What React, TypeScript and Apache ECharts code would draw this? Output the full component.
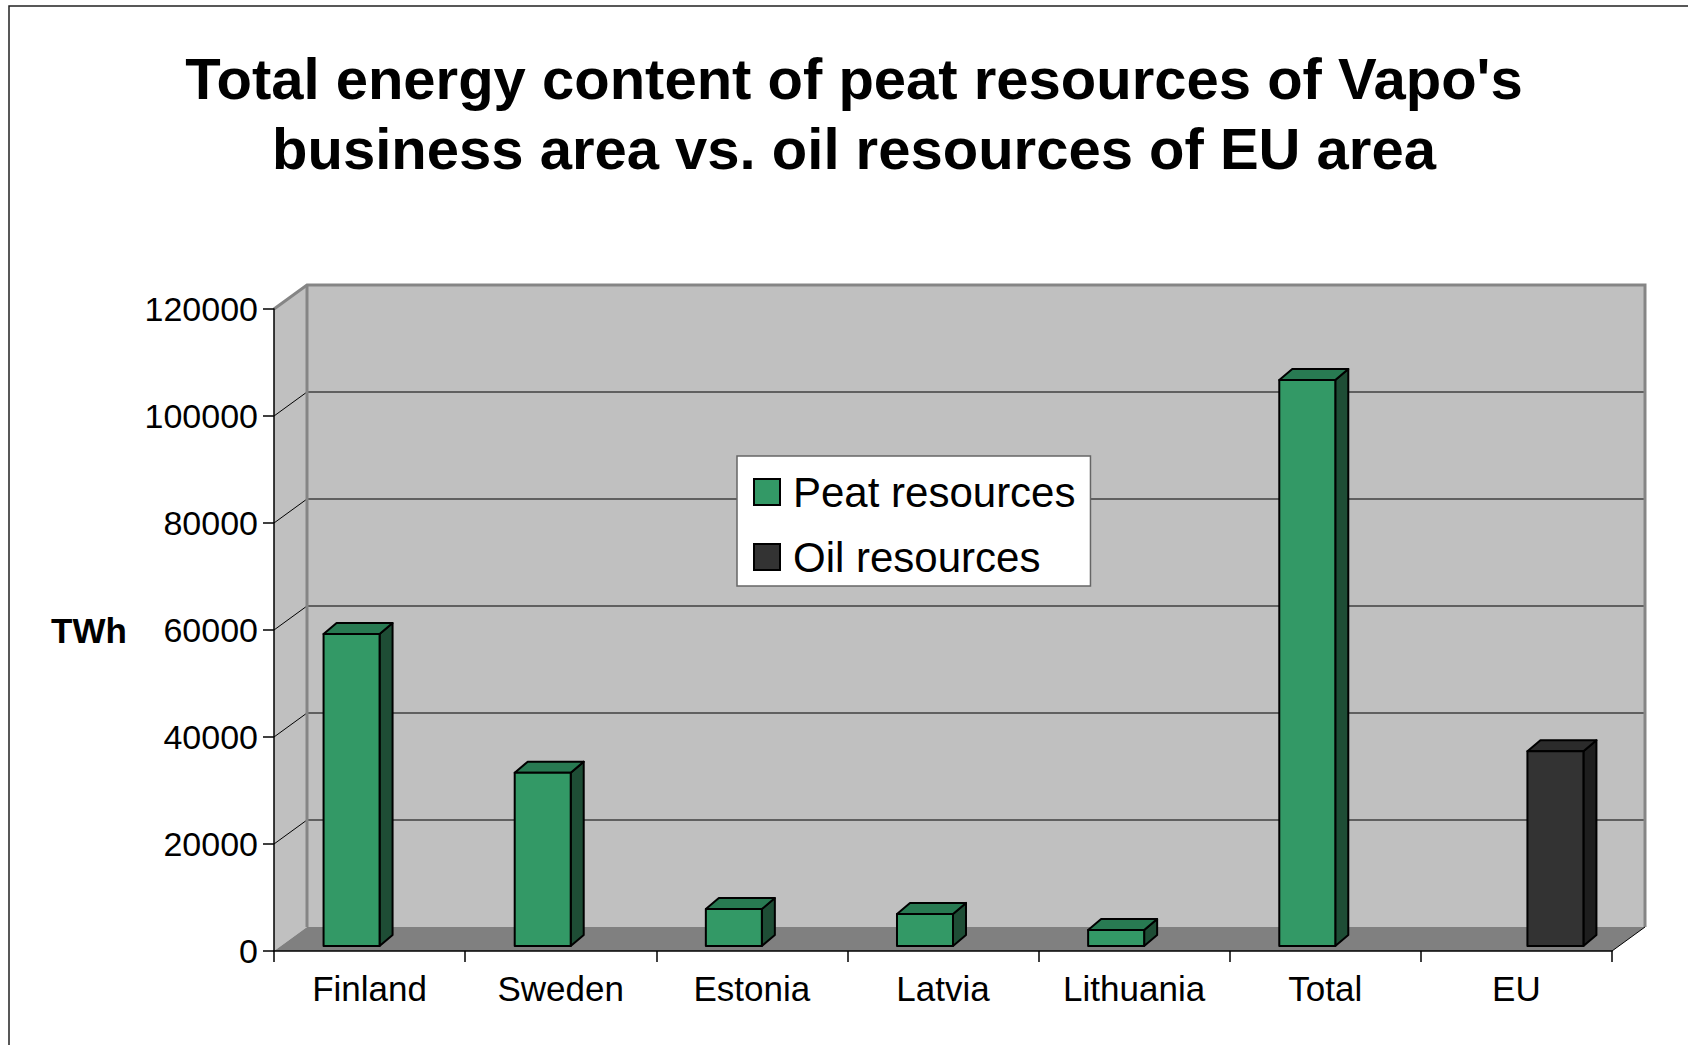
import React, { useEffect, useRef } from "react";
import * as echarts from "echarts";

const titleLines = ["Total energy content of peat resources of Vapo's", "business area vs. oil resources of EU area"];
const categories = ["Finland", "Sweden", "Estonia", "Latvia", "Lithuania", "Total", "EU"];
const peatValues: (number | null)[] = [58300, 32400, 6900, 6000, 3000, 105800, null];
const oilValues: (number | null)[] = [null, null, null, null, null, null, 36400];
const yTicks = [0, 20000, 40000, 60000, 80000, 100000, 120000];
const seriesNames = ["Peat resources", "Oil resources"];
const unitLabel = "TWh";

const FONT = "Liberation Sans, Arial, sans-serif";
const DX = 33;
const DY = -24;
const BAR_DX = 13;
const BAR_DY = -11;
const BAR_SHIFT_Y = -5;
const BAR_W = 0.293;

const peatColors = { front: "#339966", top: "#287a52", side: "#1e4d35" };
const oilColors = { front: "#333333", top: "#2b2b2b", side: "#1e1e1e" };

function makeBarRenderer(c: { front: string; top: string; side: string }, slotOffset: number) {
  return (params: any, api: any) => {
    const idx = api.value(0);
    const v = api.value(1);
    const topPt = api.coord([idx, v]);
    const basePt = api.coord([idx, 0]);
    const band = api.size([1, 0])[0];
    const x0 = topPt[0] + band * slotOffset;
    const w = band * BAR_W;
    const yT = topPt[1] + BAR_SHIFT_Y;
    const yB = basePt[1] + BAR_SHIFT_Y;
    const stroke = { stroke: "#000", lineWidth: 2, lineJoin: "round" };
    return {
      type: "group",
      children: [
        {
          type: "polygon",
          shape: { points: [[x0 + w, yT], [x0 + w + BAR_DX, yT + BAR_DY], [x0 + w + BAR_DX, yB + BAR_DY], [x0 + w, yB]] },
          style: { fill: c.side, ...stroke },
        },
        {
          type: "polygon",
          shape: { points: [[x0, yT], [x0 + BAR_DX, yT + BAR_DY], [x0 + w + BAR_DX, yT + BAR_DY], [x0 + w, yT]] },
          style: { fill: c.top, ...stroke },
        },
        {
          type: "rect",
          shape: { x: x0, y: yT, width: w, height: yB - yT },
          style: { fill: c.front, ...stroke },
        },
      ],
    };
  };
}

function frameRenderer(params: any, api: any) {
  const cs = params.coordSys;
  const L = cs.x;
  const R = cs.x + cs.width;
  const T = cs.y;
  const B = cs.y + cs.height;
  const children: any[] = [
    { type: "rect", shape: { x: L + DX, y: T + DY, width: cs.width, height: cs.height }, style: { fill: "#c0c0c0" } },
    { type: "polygon", shape: { points: [[L, T], [L + DX, T + DY], [L + DX, B + DY], [L, B]] }, style: { fill: "#c0c0c0" } },
    { type: "polygon", shape: { points: [[L, B], [L + DX, B + DY], [R + DX, B + DY], [R, B]] }, style: { fill: "#808080" } },
  ];
  for (const t of yTicks) {
    if (t === yTicks[0] || t === yTicks[yTicks.length - 1]) continue;
    const y = api.coord([0, t])[1];
    children.push({
      type: "polyline",
      shape: { points: [[L, y], [L + DX, y + DY], [R + DX, y + DY]] },
      style: { stroke: "#000", lineWidth: 1, fill: null },
    });
  }
  children.push({
    type: "polyline",
    shape: { points: [[L, T], [L + DX, T + DY], [R + DX, T + DY], [R + DX, B + DY]] },
    style: { stroke: "#858585", lineWidth: 3, fill: null },
  });
  children.push({
    type: "line",
    shape: { x1: L + DX, y1: T + DY, x2: L + DX, y2: B + DY },
    style: { stroke: "#858585", lineWidth: 3 },
  });
  children.push({
    type: "line",
    shape: { x1: R, y1: B, x2: R + DX, y2: B + DY },
    style: { stroke: "#000", lineWidth: 1 },
  });
  return { type: "group", children };
}

export default function App() {
  const ref = useRef<HTMLDivElement>(null);
  useEffect(() => {
    if (!ref.current) return;
    const chart = echarts.init(ref.current, null, { renderer: "svg" });
    const peatData = peatValues.map((v, i) => (v == null ? null : [i, v])).filter((d) => d != null);
    const oilData = oilValues.map((v, i) => (v == null ? null : [i, v])).filter((d) => d != null);
    chart.setOption({
      animation: false,
      backgroundColor: "#ffffff",
      title: {
        text: titleLines.join("\n"),
        left: 849,
        top: 38,
        textAlign: "center",
        textStyle: { fontFamily: FONT, fontSize: 58, fontWeight: "bold", color: "#000", lineHeight: 70 },
      },
      legend: {
        orient: "vertical",
        left: 737,
        top: 456,
        padding: [15, 15, 8, 16],
        itemWidth: 26,
        itemHeight: 26,
        itemGap: 23,
        backgroundColor: "#ffffff",
        borderColor: "#666666",
        borderWidth: 1.5,
        borderRadius: 0,
        formatter: (name: string) => `{t|${name}}`,
        textStyle: {
          rich: { t: { fontFamily: FONT, fontSize: 42, color: "#000", lineHeight: 42, padding: [0, 0, 0, 8] } },
        },
        data: [
          { name: seriesNames[0], icon: "rect", itemStyle: { color: peatColors.front, borderColor: "#000", borderWidth: 2 } },
          { name: seriesNames[1], icon: "rect", itemStyle: { color: oilColors.front, borderColor: "#000", borderWidth: 2 } },
        ],
      },
      grid: { left: 274, right: 76, top: 309, bottom: 94, containLabel: false },
      xAxis: {
        type: "category",
        data: categories,
        boundaryGap: true,
        axisLine: { show: true, lineStyle: { color: "#000", width: 1.5 } },
        axisTick: { show: true, length: 11, lineStyle: { color: "#000", width: 1.5 } },
        axisLabel: { fontFamily: FONT, fontSize: 35, color: "#000", margin: 20 },
        splitLine: { show: false },
      },
      yAxis: {
        type: "value",
        min: yTicks[0],
        max: yTicks[yTicks.length - 1],
        interval: yTicks[1] - yTicks[0],
        axisLine: { show: true, lineStyle: { color: "#000", width: 1.5 } },
        axisTick: { show: true, length: 11, lineStyle: { color: "#000", width: 1.5 } },
        axisLabel: { fontFamily: FONT, fontSize: 34, color: "#000", margin: 16, formatter: (v: number) => String(v) },
        splitLine: { show: false },
      },
      graphic: [
        {
          type: "rect",
          shape: { x: 9, y: 6, width: 1720, height: 1100 },
          style: { fill: null, stroke: "#222", lineWidth: 1.5 },
          silent: true,
        },
        {
          type: "text",
          x: 89,
          y: 630,
          style: { text: unitLabel, fontFamily: FONT, fontSize: 35, fontWeight: "bold", fill: "#000", align: "center", verticalAlign: "middle" },
        },
      ],
      series: [
        {
          type: "custom",
          name: "frame",
          z: -1,
          silent: true,
          renderItem: frameRenderer,
          data: [[0, 0]],
          clip: false,
        },
        {
          type: "custom",
          name: seriesNames[0],
          z: 3,
          renderItem: makeBarRenderer(peatColors, -0.2407),
          itemStyle: { color: peatColors.front },
          data: peatData,
          clip: false,
        },
        {
          type: "custom",
          name: seriesNames[1],
          z: 3,
          renderItem: makeBarRenderer(oilColors, 0.0575),
          itemStyle: { color: oilColors.front },
          data: oilData,
          clip: false,
        },
      ],
    });
    return () => chart.dispose();
  }, []);
  return <div ref={ref} style={{ position: "fixed", left: 0, top: 0, width: 1688, height: 1045, background: "#fff" }} />;
}
